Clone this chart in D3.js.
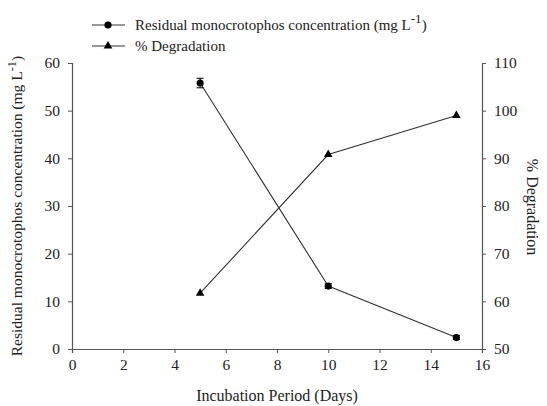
<!DOCTYPE html>
<html>
<head>
<meta charset="utf-8">
<script src="https://cdn.jsdelivr.net/npm/d3@7"></script>
<style>
  body { margin: 0; background: #fff; }
  svg text { font-family: "Liberation Serif", "Times New Roman", serif; }
</style>
</head>
<body>
<div id="chart"></div>
<script>
// data
const days = [5, 10, 15];
const residual = [55.8, 13.2, 2.4];
const residualErr = [1.0, 0.5, 0.4];
const degradation = [61.7, 90.8, 99.0];
const xTicks = [0, 2, 4, 6, 8, 10, 12, 14, 16];
const leftTicks = [0, 10, 20, 30, 40, 50, 60];
const rightTicks = [50, 60, 70, 80, 90, 100, 110];

const width = 547, height = 406;
const plot = { left: 72, right: 482, top: 63, bottom: 349 };
const axisColor = "#555";
const serif = '"Liberation Serif", "Times New Roman", serif';

const svg = d3.select("#chart").append("svg")
  .attr("width", width)
  .attr("height", height);

const x = d3.scaleLinear().domain([0, 16]).range([plot.left, plot.right]);
const yLeft = d3.scaleLinear().domain([0, 60]).range([plot.bottom, plot.top]);
const yRight = d3.scaleLinear().domain([50, 110]).range([plot.bottom, plot.top]);

function styleAxis(g) {
  g.attr("font-family", serif).attr("font-size", 15.5);
  g.select(".domain").attr("stroke", axisColor).attr("stroke-width", 1.2);
  g.selectAll(".tick line").attr("stroke", axisColor);
  g.selectAll(".tick text").attr("fill", "#222");
}

svg.append("g")
  .attr("transform", `translate(0,${plot.bottom})`)
  .call(d3.axisBottom(x).tickValues(xTicks).tickSizeOuter(0).tickSize(4).tickPadding(6))
  .call(styleAxis);

svg.append("g")
  .attr("transform", `translate(${plot.left},0)`)
  .call(d3.axisLeft(yLeft).tickValues(leftTicks).tickSizeOuter(0).tickSize(4).tickPadding(8))
  .call(styleAxis);

svg.append("g")
  .attr("transform", `translate(${plot.right},0)`)
  .call(d3.axisRight(yRight).tickValues(rightTicks).tickSizeOuter(0).tickSize(4).tickPadding(8))
  .call(styleAxis);

// lines
const lineLeft = d3.line().x((d, i) => x(days[i])).y(d => yLeft(d));
const lineRight = d3.line().x((d, i) => x(days[i])).y(d => yRight(d));

svg.append("path").datum(residual)
  .attr("d", lineLeft).attr("fill", "none").attr("stroke", "#333").attr("stroke-width", 1.1);
svg.append("path").datum(degradation)
  .attr("d", lineRight).attr("fill", "none").attr("stroke", "#333").attr("stroke-width", 1.1);

// error bars
const errs = svg.append("g").attr("stroke", "#000").attr("stroke-width", 1);
residual.forEach((v, i) => {
  const cx = x(days[i]);
  const y1 = yLeft(v + residualErr[i]), y2 = yLeft(v - residualErr[i]);
  errs.append("line").attr("x1", cx).attr("x2", cx).attr("y1", y1).attr("y2", y2);
  errs.append("line").attr("x1", cx - 3.5).attr("x2", cx + 3.5).attr("y1", y1).attr("y2", y1);
  errs.append("line").attr("x1", cx - 3.5).attr("x2", cx + 3.5).attr("y1", y2).attr("y2", y2);
});

// markers
const circleSym = d3.symbol().type(d3.symbolCircle).size(40);
const triSym = d3.symbol().type(d3.symbolTriangle).size(32);

svg.append("g").selectAll("path").data(residual).join("path")
  .attr("transform", (d, i) => `translate(${x(days[i])},${yLeft(d)})`)
  .attr("d", circleSym).attr("fill", "#000");

svg.append("g").selectAll("path").data(degradation).join("path")
  .attr("transform", (d, i) => `translate(${x(days[i])},${yRight(d)})`)
  .attr("d", triSym).attr("fill", "#000");

// axis titles
svg.append("text")
  .attr("x", 277).attr("y", 401)
  .attr("text-anchor", "middle").attr("font-size", 16).attr("fill", "#222")
  .text("Incubation Period (Days)");

const leftTitle = svg.append("text")
  .attr("transform", "translate(22,206) rotate(-90)")
  .attr("text-anchor", "middle").attr("font-size", 15.5).attr("fill", "#222");
leftTitle.append("tspan").text("Residual monocrotophos concentration (mg L");
leftTitle.append("tspan").attr("dy", -6).attr("font-size", 12.5).text("-1");
leftTitle.append("tspan").attr("dy", 6).text(")");

svg.append("text")
  .attr("transform", "translate(527,207) rotate(90)")
  .attr("text-anchor", "middle").attr("font-size", 16).attr("fill", "#222")
  .text("% Degradation");

// legend
const legendRows = [
  { sym: circleSym, label: "Residual monocrotophos concentration (mg L", sup: "-1", tail: ")", y: 25 },
  { sym: triSym, label: "% Degradation", y: 46 }
];
const legend = svg.append("g");
legendRows.forEach(r => {
  legend.append("line").attr("x1", 92).attr("x2", 125).attr("y1", r.y).attr("y2", r.y)
    .attr("stroke", "#333").attr("stroke-width", 1.1);
  legend.append("path").attr("transform", `translate(108,${r.y})`).attr("d", r.sym).attr("fill", "#000");
  const t = legend.append("text").attr("x", 135).attr("y", r.y + 5)
    .attr("font-size", 15).attr("fill", "#222");
  t.append("tspan").text(r.label);
  if (r.sup) {
    t.append("tspan").attr("dy", -7).attr("font-size", 13).text(r.sup);
    t.append("tspan").attr("dy", 7).text(r.tail);
  }
});
</script>
</body>
</html>
